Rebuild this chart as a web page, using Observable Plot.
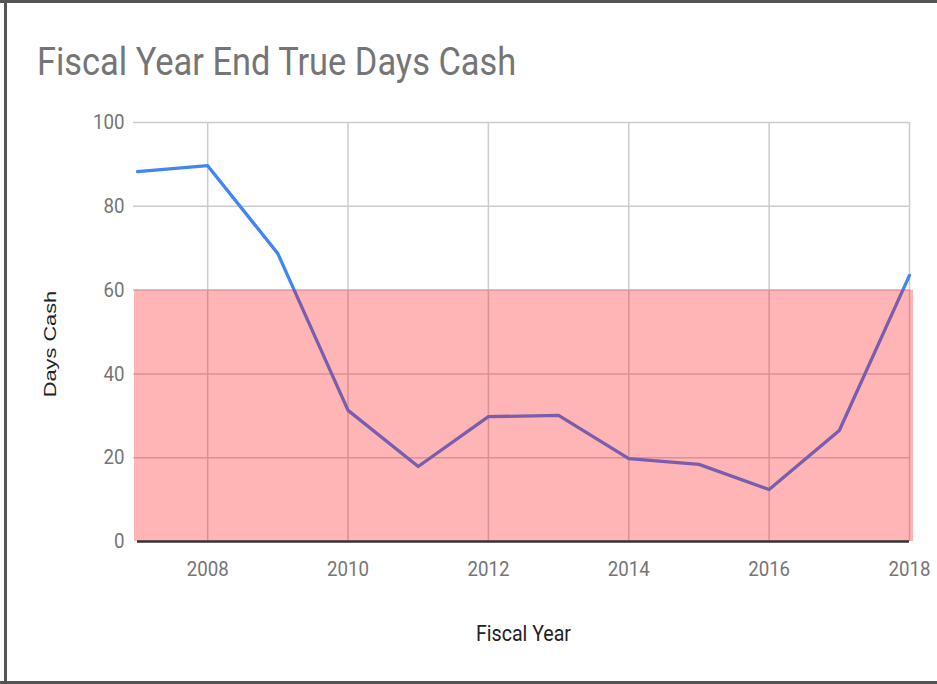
<!DOCTYPE html>
<html>
<head>
<meta charset="utf-8">
<script src="https://cdn.jsdelivr.net/npm/d3@7"></script>
<script src="https://cdn.jsdelivr.net/npm/@observablehq/plot@0.6"></script>
<style>
  html, body { margin: 0; padding: 0; background: #fff; }
  #page { position: relative; width: 937px; height: 684px; overflow: hidden; background: #fff; }
  #title { position: absolute; left: 37px; top: 43px; font-family: Roboto, sans-serif; font-size: 38px; color: #757575; white-space: nowrap; line-height: 1; transform: scaleX(0.905); transform-origin: 0 0; }
  #chart { position: absolute; left: 0; top: 100px; }
  .bar-top { position: absolute; left: 0; top: 0; width: 937px; height: 3px; background: #555; }
  .bar-left { position: absolute; left: 4px; top: 0; width: 3px; height: 684px; background: #555; }
  .bar-bottom { position: absolute; left: 0; top: 681px; width: 937px; height: 3px; background: #555; }
</style>
</head>
<body>
<div id="page">
  <div id="title">Fiscal Year End True Days Cash</div>
  <div id="chart"></div>
  <div class="bar-top"></div>
  <div class="bar-left"></div>
  <div class="bar-bottom"></div>
</div>
<script>
const years = [2007, 2008, 2009, 2010, 2011, 2012, 2013, 2014, 2015, 2016, 2017, 2018];
const daysCash = [88.3, 89.7, 68.7, 31.3, 17.9, 29.8, 30.1, 19.8, 18.4, 12.4, 26.5, 63.5];
const xTicks = [2008, 2010, 2012, 2014, 2016, 2018];
const yTicks = [0, 20, 40, 60, 80, 100];
const bandYears = [2007, 2018];
const bandDays = [0, 60];

const data = years.map((y, i) => ({year: y, days: daysCash[i]}));
const band = [{x1: bandYears[0], x2: bandYears[1], y1: bandDays[0], y2: bandDays[1]}];

const chart = Plot.plot({
  width: 937,
  height: 584,
  marginTop: 22,
  marginBottom: 143,
  marginLeft: 137,
  marginRight: 28,
  style: {background: "transparent", fontFamily: "Roboto, sans-serif"},
  x: {domain: [2007, 2018], ticks: xTicks},
  y: {domain: [0, 100], ticks: yTicks},
  marks: [
    Plot.ruleY(yTicks.filter(d => d > 0), {stroke: "#cccccc", strokeWidth: 1.5, insetLeft: -4}),
    Plot.ruleX(xTicks, {stroke: "#cccccc", strokeWidth: 1.5}),
    Plot.line(data, {x: "year", y: "days", stroke: "#4285f4", strokeWidth: 3.3, strokeLinejoin: "round"}),
    Plot.rect(band, {x1: "x1", x2: "x2", y1: "y1", y2: "y2", fill: "#ff0000", fillOpacity: 0.29, insetLeft: -3, insetRight: -4}),
    Plot.ruleY([0], {stroke: "#333333", strokeWidth: 2.5}),
    Plot.axisX({ticks: xTicks, tickFormat: d => String(d), tickSize: 0, tickPadding: 20, fontSize: 21, color: "#757575", label: null, className: "squeeze"}),
    Plot.axisY({ticks: yTicks, tickSize: 0, tickPadding: 13, fontSize: 21, color: "#757575", label: null, className: "squeeze"}),
    Plot.text(["Fiscal Year"], {frameAnchor: "bottom", lineAnchor: "middle", dy: 92, fontSize: 22, fill: "#222222", className: "squeeze"}),
    Plot.text(["Days Cash"], {frameAnchor: "left", textAnchor: "middle", lineAnchor: "middle", rotate: -90, dx: -87, dy: 12, fontSize: 17, fill: "#222222", fontFamily: "Liberation Sans, Arial, sans-serif", className: "stretch"})
  ]
});
d3.select(chart).selectAll(".squeeze text").each(function() {
  const t = this.getAttribute("transform") || "";
  this.setAttribute("transform", t + " scale(0.89,1)");
});
d3.select(chart).selectAll(".stretch text").each(function() {
  const t = this.getAttribute("transform") || "";
  this.setAttribute("transform", t + " scale(1.28,1)");
});
document.getElementById("chart").appendChild(chart);
</script>
</body>
</html>
